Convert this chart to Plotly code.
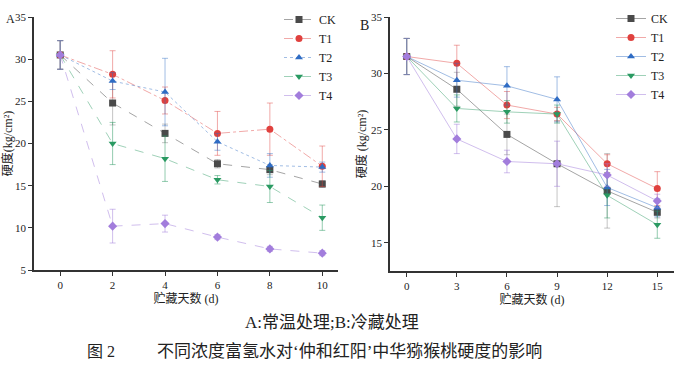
import plotly.graph_objects as go

series = ["CK", "T1", "T2", "T3", "T4"]

# Panel A: room temperature storage
days_a = [0, 2, 4, 6, 8, 10]
a_ck = [30.5, 24.8, 21.2, 17.6, 16.9, 15.2]
a_t1 = [30.5, 28.2, 25.1, 21.2, 21.7, 17.3]
a_t2 = [30.5, 27.4, 26.1, 20.2, 17.4, 17.2]
a_t3 = [30.5, 20.0, 18.2, 15.7, 14.9, 11.2]
a_t4 = [30.5, 10.2, 10.5, 8.9, 7.5, 7.0]
a_ck_err = [1.7, 2.6, 1.1, 0.5, 0.6, 0.4]
a_t1_err = [1.7, 2.8, 1.6, 2.6, 3.1, 2.4]
a_t2_err = [1.7, 1.0, 4.0, 1.0, 1.4, 0.6]
a_t3_err = [1.7, 2.5, 2.7, 0.5, 1.9, 1.5]
a_t4_err = [1.7, 2.0, 1.0, 0.3, 0.3, 0.3]

# Panel B: cold storage
days_b = [0, 3, 6, 9, 12, 15]
b_ck = [31.5, 28.6, 24.6, 22.0, 19.6, 17.7]
b_t1 = [31.5, 30.9, 27.2, 26.4, 22.0, 19.8]
b_t2 = [31.5, 29.4, 28.9, 27.7, 19.9, 18.1]
b_t3 = [31.5, 26.9, 26.6, 26.4, 19.2, 16.6]
b_t4 = [31.5, 24.2, 22.2, 22.0, 21.0, 18.7]
b_ck_err = [1.6, 1.5, 1.8, 3.8, 3.3, 0.5]
b_t1_err = [1.6, 1.6, 1.2, 0.6, 0.8, 1.5]
b_t2_err = [1.6, 1.5, 1.7, 2.0, 1.6, 0.8]
b_t3_err = [1.6, 1.2, 1.0, 0.8, 2.0, 1.2]
b_t4_err = [1.6, 1.3, 1.0, 2.0, 1.0, 0.6]

x_ticks_a = [0, 2, 4, 6, 8, 10]
x_ticks_b = [0, 3, 6, 9, 12, 15]
y_ticks_a = [5, 10, 15, 20, 25, 30, 35]
y_ticks_b = [15, 20, 25, 30, 35]

colors = ["#4a4a4a", "#e0413e", "#2f6cc4", "#2a9a62", "#a27ddc"]
line_cols = ["rgba(90,90,90,0.55)", "rgba(224,65,62,0.45)", "rgba(47,108,196,0.45)",
             "rgba(42,154,98,0.45)", "rgba(162,125,220,0.5)"]
err_cols = ["rgba(90,90,90,0.35)", "rgba(224,65,62,0.45)", "rgba(47,108,196,0.45)",
            "rgba(42,154,98,0.5)", "rgba(162,125,220,0.5)"]
symbols = ["square", "circle", "triangle-up", "triangle-down", "diamond"]
dashes = ["dash", "dashdot", "dot", "dash", "dash"]

FONT = "Liberation Serif, DejaVu Serif, Noto Sans CJK SC"

fig = go.Figure()

A = [a_ck, a_t1, a_t2, a_t3, a_t4]
AE = [a_ck_err, a_t1_err, a_t2_err, a_t3_err, a_t4_err]
B = [b_ck, b_t1, b_t2, b_t3, b_t4]
BE = [b_ck_err, b_t1_err, b_t2_err, b_t3_err, b_t4_err]

for i, name in enumerate(series):
    fig.add_trace(go.Scatter(
        x=days_a, y=A[i], name=name, mode="lines+markers",
        line=dict(color=line_cols[i], width=1, dash=dashes[i]),
        marker=dict(symbol=symbols[i], size=7, color=colors[i]),
        error_y=dict(type="data", array=AE[i], color=err_cols[i], thickness=1, width=3),
        xaxis="x", yaxis="y", legend="legend"))
for i, name in enumerate(series):
    fig.add_trace(go.Scatter(
        x=days_b, y=B[i], name=name, mode="lines+markers",
        line=dict(color=line_cols[i], width=1),
        marker=dict(symbol=symbols[i], size=7, color=colors[i]),
        error_y=dict(type="data", array=BE[i], color=err_cols[i], thickness=1, width=3),
        xaxis="x2", yaxis="y2", legend="legend2"))

axis_common = dict(showline=True, linecolor="#333", linewidth=1.5, ticks="outside",
                   ticklen=4, tickcolor="#333", showgrid=False, zeroline=False,
                   automargin=False,
                   tickfont=dict(family=FONT, size=11, color="#222"))

fig.update_layout(
    width=674, height=365, margin=dict(l=0, r=0, t=0, b=0, autoexpand=False),
    paper_bgcolor="white", plot_bgcolor="white",
    font=dict(family=FONT, color="#222"),
    xaxis=dict(domain=[34/674, 338/674], range=[-1, 10.6], tickvals=x_ticks_a,
               anchor="y",
               title=dict(text="贮藏天数 (d)", font=dict(size=12), standoff=2), **axis_common),
    yaxis=dict(domain=[95/365, 348/365], range=[5, 35], tickvals=y_ticks_a,
               anchor="x",
               title=dict(text="硬度(kg/cm²)", font=dict(size=12), standoff=2), **axis_common),
    xaxis2=dict(domain=[390/674, 1.0], range=[-1, 16], tickvals=x_ticks_b,
                anchor="y2",
                title=dict(text="贮藏天数 (d)", font=dict(size=12), standoff=2), **axis_common),
    yaxis2=dict(domain=[94/365, 348/365], range=[12.5, 35], tickvals=y_ticks_b,
                anchor="x2",
                title=dict(text="硬度 (kg/cm²)", font=dict(size=12), standoff=2), **axis_common),
    legend=dict(x=342/674, y=1-5/365, xanchor="right", yanchor="top",
                font=dict(family=FONT, size=12), bgcolor="rgba(0,0,0,0)",
                tracegroupgap=0, itemwidth=30),
    legend2=dict(x=1.0, y=1-4/365, xanchor="right", yanchor="top",
                 font=dict(family=FONT, size=12), bgcolor="rgba(0,0,0,0)",
                 tracegroupgap=0, itemwidth=30),
    showlegend=True,
)

fig.add_annotation(text="A", x=10/674, y=1-19/365, xref="paper", yref="paper",
                   xanchor="center", yanchor="middle",
                   showarrow=False, font=dict(family=FONT, size=12))
fig.add_annotation(text="B", x=364/674, y=1-25/365, xref="paper", yref="paper",
                   xanchor="center", yanchor="middle",
                   showarrow=False, font=dict(family=FONT, size=14))
fig.add_annotation(text="A:常温处理;B:冷藏处理", x=332/674, y=1-322/365, xref="paper", yref="paper",
                   xanchor="center", yanchor="middle",
                   showarrow=False, font=dict(family=FONT, size=17))
fig.add_annotation(text="图 2", x=85/674, y=1-351/365, xref="paper", yref="paper",
                   xanchor="left", yanchor="middle",
                   showarrow=False, font=dict(family=FONT, size=16))
fig.add_annotation(text="不同浓度富氢水对‘仲和红阳’中华猕猴桃硬度的影响",
                   x=155/674, y=1-351/365, xref="paper", yref="paper",
                   xanchor="left", yanchor="middle",
                   showarrow=False, font=dict(family=FONT, size=17))

fig.write_html("out.html", config={"displayModeBar": False},
               post_script="document.body.style.margin='0';document.body.style.overflow='hidden';")
